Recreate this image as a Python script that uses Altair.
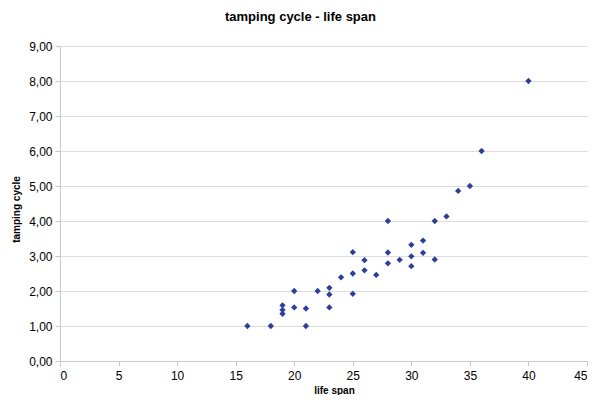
import altair as alt
import pandas as pd

life_span = [16, 18, 19, 19, 19, 20, 20, 21, 21, 22, 23, 23, 23, 24, 25, 25, 25,
             26, 26, 27, 28, 28, 28, 29, 30, 30, 30, 31, 31, 32, 32, 33, 34, 35, 36, 40]
tamping_cycle = [1.00, 1.00, 1.59, 1.46, 1.35, 2.00, 1.53, 1.50, 1.00, 2.00, 2.09, 1.90, 1.53,
                 2.39, 3.11, 2.50, 1.92, 2.88, 2.59, 2.46, 4.00, 3.10, 2.79, 2.89, 3.32, 2.99,
                 2.71, 3.44, 3.09, 4.00, 2.90, 4.13, 4.86, 5.00, 6.00, 8.00]

df = pd.DataFrame({"life span": life_span, "tamping cycle": tamping_cycle})

FONT = "Liberation Sans"

chart = alt.Chart(df).mark_point(
    shape="diamond", filled=True, size=40, color="#2E3F9A", opacity=1
).encode(
    x=alt.X("life span:Q",
            scale=alt.Scale(domain=[0, 45], nice=False),
            axis=alt.Axis(title="life span", values=list(range(0, 46, 5)),
                          grid=False, tickSize=5, labelPadding=4,
                          titlePadding=4, titleX=274)),
    y=alt.Y("tamping cycle:Q",
            scale=alt.Scale(domain=[0, 9], nice=False),
            axis=alt.Axis(title="tamping cycle", values=list(range(0, 10)),
                          labelExpr="replace(format(datum.value, '.2f'), '.', ',')",
                          grid=True, tickSize=5, labelPadding=3,
                          titlePadding=7, titleY=163)),
).properties(
    width=527, height=315,
    title=alt.TitleParams("tamping cycle - life span", fontSize=13, font=FONT,
                          fontWeight="bold", color="#000000", dx=-23, offset=16),
    autosize=alt.AutoSizeParams(type="none"),
    padding={"left": 52, "top": 38, "right": 5, "bottom": 34},
).configure_view(
    stroke=None
).configure_axis(
    labelFont=FONT, labelFontSize=12, labelColor="#000000",
    titleFont=FONT, titleFontSize=10, titleFontWeight="bold", titleColor="#000000",
    domainColor="#c8c8c8", tickColor="#c8c8c8", gridColor="#dddddd",
    gridWidth=1
)

chart.save("out.html", embed_options={"renderer": "svg", "actions": False})
